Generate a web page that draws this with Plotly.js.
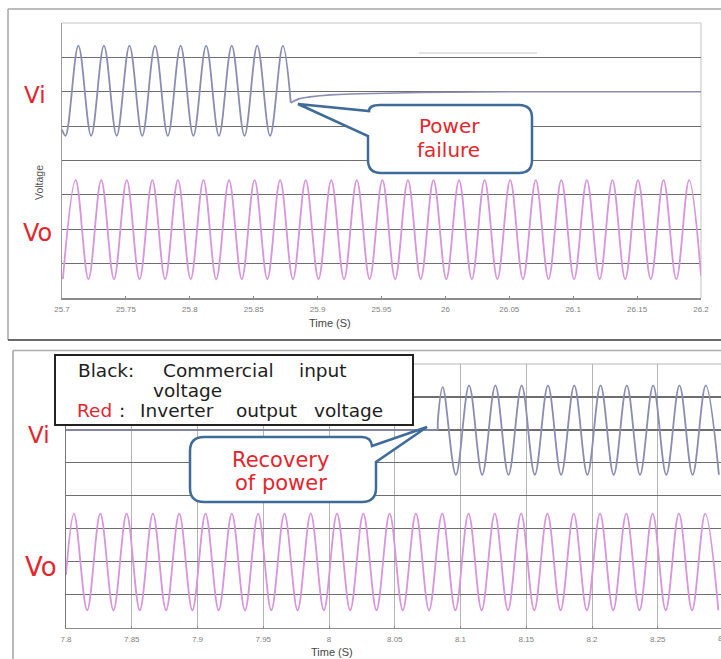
<!DOCTYPE html>
<html>
<head>
<meta charset="utf-8">
<script src="https://cdn.plot.ly/plotly-3.0.1.min.js"></script>
<style>html,body{margin:0;padding:0;background:#fff;}#chart{width:721px;height:659px;}</style>
</head>
<body>
<div id="chart"></div>
<script>
// ---------- data (extremes / key points of each waveform) ----------
// Top panel: power failure (time in s, voltage in grid divisions)
const topViT = [25.7000,25.7028,25.7128,25.7228,25.7328,25.7428,25.7528,25.7628,25.7728,25.7828,
                25.7928,25.8028,25.8128,25.8228,25.8328,25.8428,25.8528,25.8628,25.8728,25.8790];
const topViV = [-1.10,-1.28,1.34,-1.28,1.34,-1.28,1.34,-1.28,1.34,-1.28,
                1.34,-1.28,1.34,-1.28,1.34,-1.28,1.34,-1.28,1.34,-0.32];
const topViTailT = [25.8790,25.8860,25.8940,25.9100,25.9330,25.9800,26.0500,26.2000];
const topViTailV = [-0.32,-0.20,-0.15,-0.09,-0.06,-0.02,0,0];

const topVoT = [25.7007,25.7107,25.7207,25.7307,25.7407,25.7507,25.7607,25.7707,25.7807,25.7907,
                25.8007,25.8107,25.8207,25.8307,25.8407,25.8507,25.8607,25.8707,25.8807,25.8907,
                25.9007,25.9107,25.9207,25.9307,25.9407,25.9507,25.9607,25.9707,25.9807,25.9907,
                26.0007,26.0107,26.0207,26.0307,26.0407,26.0507,26.0607,26.0707,26.0807,26.0907,
                26.1007,26.1107,26.1207,26.1307,26.1407,26.1507,26.1607,26.1707,26.1807,26.1907,
                26.2000];
const topVoV = [-1.45,1.43,-1.45,1.43,-1.45,1.43,-1.45,1.43,-1.45,1.43,
                -1.45,1.43,-1.45,1.43,-1.45,1.43,-1.45,1.43,-1.45,1.43,
                -1.45,1.43,-1.45,1.43,-1.45,1.43,-1.45,1.43,-1.45,1.43,
                -1.45,1.43,-1.45,1.43,-1.45,1.43,-1.45,1.43,-1.45,1.43,
                -1.45,1.43,-1.45,1.43,-1.45,1.43,-1.45,1.43,-1.45,1.43,
                -1.35];

// Bottom panel: recovery of power
const botViFlatT = [7.8000,8.0827];
const botViFlatV = [0,0];
const botViT = [8.0827,8.0829,8.0865,8.0965,8.1065,8.1165,8.1265,8.1365,8.1465,
                8.1565,8.1665,8.1765,8.1865,8.1965,8.2065,8.2165,8.2265,8.2365,8.2465,
                8.2565,8.2665,8.2765,8.2865,8.2965];
const botViV = [0,0.35,1.30,-1.36,1.35,-1.36,1.35,-1.36,1.35,
                -1.36,1.35,-1.36,1.35,-1.36,1.35,-1.36,1.35,-1.36,1.35,
                -1.36,1.35,-1.36,1.35,-1.36];

const botVoT = [7.8000,
                7.8061,7.8161,7.8261,7.8361,7.8461,7.8561,7.8661,7.8761,7.8861,7.8961,
                7.9061,7.9161,7.9261,7.9361,7.9461,7.9561,7.9661,7.9761,7.9861,7.9961,
                8.0061,8.0161,8.0261,8.0361,8.0461,8.0561,8.0661,8.0761,8.0861,8.0961,
                8.1061,8.1161,8.1261,8.1361,8.1461,8.1561,8.1661,8.1761,8.1861,8.1961,
                8.2061,8.2161,8.2261,8.2361,8.2461,8.2561,8.2661,8.2761,8.2861,8.2961];
const botVoV = [-0.40,
                1.46,-1.47,1.46,-1.47,1.46,-1.47,1.46,-1.47,1.46,-1.47,
                1.46,-1.47,1.46,-1.47,1.46,-1.47,1.46,-1.47,1.46,-1.47,
                1.46,-1.47,1.46,-1.47,1.46,-1.47,1.46,-1.47,1.46,-1.47,
                1.46,-1.47,1.46,-1.47,1.46,-1.47,1.46,-1.47,1.46,-1.47,
                1.46,-1.47,1.46,-1.47,1.46,-1.47,1.46,-1.47,1.46,-1.47];

// tick labels
const topTicks = [25.7,25.75,25.8,25.85,25.9,25.95,26,26.05,26.1,26.15,26.2];
const topTickText = ['25.7','25.75','25.8','25.85','25.9','25.95','26','26.05','26.1','26.15','26.2'];
const botTicks = [7.8,7.85,7.9,7.95,8,8.05,8.1,8.15,8.2,8.25];
const botTickText = ['7.8','7.85','7.9','7.95','8','8.05','8.1','8.15','8.2','8.25'];
const gridDivs = [-5,-4,-3,-2,-1,0,1];   // horizontal grid divisions (Vi scale)

// ---------- layout helpers ----------
const W = 721, H = 659;
const px = x => x / W;
const py = y => 1 - y / H;
function toPath(segs){
  return segs.map(s => {
    const pts = [];
    for (let i = 1; i < s.length; i += 2) pts.push(px(s[i]).toFixed(5) + ',' + py(s[i+1]).toFixed(5));
    return s[0] + pts.join(' ');
  }).join(' ') + ' Z';
}
function line(x0,y0,x1,y1,color,width,layer){
  return {type:'line',xref:'paper',yref:'paper',x0:px(x0),y0:py(y0),x1:px(x1),y1:py(y1),
          line:{color:color,width:width},layer:layer||'below'};
}
const RED = '#e3262d';
const VI_COLOR = '#8a8cb3';
const VO_COLOR = '#d894dc';
const CALLOUT = '#3f6b98';
const SANS = 'Liberation Sans, Arial, sans-serif';
const WIDE = 'DejaVu Sans, Liberation Sans, sans-serif';

function ann(text,x,y,size,color,opts){
  return Object.assign({text:text,xref:'paper',yref:'paper',x:px(x),y:py(y),showarrow:false,
    xanchor:'center',yanchor:'middle',
    font:{family:WIDE,size:size,color:color}}, opts||{});
}

const traces = [
  {x:topViT,y:topViV,xaxis:'x',yaxis:'y',mode:'lines',line:{color:VI_COLOR,width:1.8,shape:'spline',smoothing:1},hoverinfo:'skip'},
  {x:topViTailT,y:topViTailV,xaxis:'x',yaxis:'y',mode:'lines',line:{color:VI_COLOR,width:1.6,shape:'spline',smoothing:1},hoverinfo:'skip'},
  {x:topVoT,y:topVoV,xaxis:'x',yaxis:'y3',mode:'lines',line:{color:VO_COLOR,width:1.8,shape:'spline',smoothing:1},hoverinfo:'skip'},
  {x:botViFlatT,y:botViFlatV,xaxis:'x2',yaxis:'y2',mode:'lines',line:{color:VI_COLOR,width:1.6},hoverinfo:'skip'},
  {x:botViT,y:botViV,xaxis:'x2',yaxis:'y2',mode:'lines',line:{color:VI_COLOR,width:1.8,shape:'spline',smoothing:1},hoverinfo:'skip'},
  {x:botVoT,y:botVoV,xaxis:'x2',yaxis:'y4',mode:'lines',line:{color:VO_COLOR,width:1.8,shape:'spline',smoothing:1},hoverinfo:'skip'}
];

const xCommon = {showgrid:false,zeroline:false,showline:true,linecolor:'#8c8c8c',linewidth:1.5,
  ticks:'inside',ticklen:2,tickcolor:'#8c8c8c',tickfont:{size:8,color:'#808080',family:SANS},
  ticklabelstandoff:3,fixedrange:true,tickmode:'array'};
const yCommon = {range:[-6,2],tickmode:'array',tickvals:gridDivs,showticklabels:false,ticks:'',showgrid:true,
  gridcolor:'#6e6e6e',gridwidth:1.2,zeroline:false,showline:true,linewidth:1.5,fixedrange:true};

const layout = {
  width:W,height:H,autosize:false,margin:{l:0,r:0,t:0,b:0,pad:0},
  paper_bgcolor:'#ffffff',plot_bgcolor:'rgba(0,0,0,0)',showlegend:false,
  font:{family:SANS},
  xaxis:Object.assign({},xCommon,{domain:[px(62),px(701)],range:[25.7,26.2],tickvals:topTicks,ticktext:topTickText,anchor:'y'}),
  yaxis:Object.assign({},yCommon,{domain:[py(298),py(23)],anchor:'x',linecolor:'#9a9a9a'}),
  yaxis3:{overlaying:'y',range:[-2,6],visible:false,anchor:'x',fixedrange:true},
  xaxis2:Object.assign({},xCommon,{domain:[px(66),1],range:[7.8,7.8+655/1315],tickvals:botTicks,ticktext:botTickText,
    anchor:'y2',showgrid:true,gridcolor:'#b4b4b4',gridwidth:1}),
  yaxis2:Object.assign({},yCommon,{domain:[py(627.7),py(364)],anchor:'x2',linecolor:'#7a7a7a'}),
  yaxis4:{overlaying:'y2',range:[-2,6],visible:false,anchor:'x2',fixedrange:true},
  shapes:[
    // outer frames
    line(8,9,721,9,'#a6a6a6',1.5),
    line(8,9,8,340,'#a6a6a6',1.5),
    line(8,340,721,340,'#6a6a6a',2),
    line(13,350.5,721,350.5,'#adadad',1.5),
    line(13,350.5,13,659,'#a0a0a0',1.5),
    // plot borders
    line(62,23,701,23,'#c4c4c4',1.2),
    line(701,23,701,298,'#cccccc',1.2),
    line(66,364,721,364,'#b8b8b8',1.2),
    // faint artefact line
    line(419,53,537,53,'#c6c6c6',1),
    // legend box
    {type:'rect',xref:'paper',yref:'paper',x0:px(55),y0:py(355),x1:px(413),y1:py(425),
     line:{color:'#222222',width:2},fillcolor:'#ffffff',layer:'above'},
    // callouts
    {type:'path',xref:'paper',yref:'paper',layer:'above',fillcolor:'#ffffff',line:{color:CALLOUT,width:2.5},
     path:toPath([['M',380,105],['L',519,105],['Q',532,105,532,118],['L',532,160],['Q',532,173,519,173],
                  ['L',381,173],['Q',368,173,368,160],['L',368,136],['L',298,104],['L',369,111],['Q',369,105,380,105]])},
    {type:'path',xref:'paper',yref:'paper',layer:'above',fillcolor:'#ffffff',line:{color:CALLOUT,width:2.5},
     path:toPath([['M',204,437],['L',362,437],['Q',371,437,372,446],['L',427,427],['L',376,462],['L',376,488],
                  ['Q',376,502,362,502],['L',204,502],['Q',190,502,190,488],['L',190,451],['Q',190,437,204,437]])}
  ],
  annotations:[
    ann('Vi',34.5,95.5,23,RED),
    ann('Vo',37,233.5,24,RED),
    ann('Vi',39,434.5,23,RED),
    ann('Vo',40.5,567,26,RED),
    ann('Voltage',39,183,10.5,'#555555',{textangle:-90,font:{family:SANS,size:10.5,color:'#555555'}}),
    ann('Time (S)',330,323,11,'#454545',{font:{family:SANS,size:11,color:'#454545'}}),
    ann('Time (S)',332,652,11,'#454545',{font:{family:SANS,size:11,color:'#454545'}}),
    ann('8.3',724,638,8,'#808080',{font:{family:SANS,size:8,color:'#808080'}}),
    ann('Power',449.5,126,20,RED),
    ann('failure',449,150.5,20,RED),
    ann('Recovery',280,459.5,21,RED),
    ann('of power',281,483,21,RED),
    ann('Black:',106.5,370.7,18.5,'#1e1e1e'),
    ann('Commercial',218.5,370.7,18.5,'#1e1e1e'),
    ann('input',322.5,370.7,18.5,'#1e1e1e'),
    ann('voltage',187.5,390.7,18.5,'#1e1e1e'),
    ann('Red',94,410.7,18.5,RED),
    ann(':',122,410.7,18.5,'#1e1e1e'),
    ann('Inverter',176.5,410.7,18.5,'#1e1e1e'),
    ann('output',266,410.7,18.5,'#1e1e1e'),
    ann('voltage',348.5,410.7,18.5,'#1e1e1e')
  ]
};

Plotly.newPlot('chart', traces, layout, {staticPlot:true, displayModeBar:false});
</script>
</body>
</html>
